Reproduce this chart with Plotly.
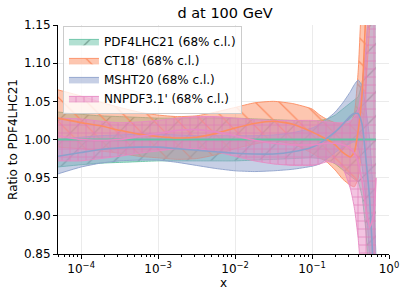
import plotly.graph_objects as go

# ---------------- data ----------------
x = [5.0e-5, 1.0e-4, 1.78e-4, 3.16e-4, 5.62e-4, 1.0e-3, 1.78e-3, 3.16e-3, 5.62e-3, 1.0e-2,
     1.78e-2, 3.16e-2, 5.62e-2, 0.100, 0.126, 0.158, 0.200, 0.251, 0.316, 0.355,
     0.398, 0.447, 0.501, 0.562, 0.631, 0.676]

pdf4lhc_c = [1.0] * 26
pdf4lhc_up = [1.036, 1.033, 1.031, 1.030, 1.029, 1.028, 1.028, 1.028, 1.028, 1.028,
              1.027, 1.026, 1.025, 1.024, 1.025, 1.027, 1.032, 1.040, 1.048, 1.052,
              1.056, 1.075, 1.120, 1.200, 1.300, 1.350]
pdf4lhc_lo = [0.964, 0.967, 0.969, 0.970, 0.971, 0.972, 0.972, 0.972, 0.972, 0.972,
              0.973, 0.974, 0.975, 0.976, 0.975, 0.973, 0.968, 0.960, 0.952, 0.948,
              0.944, 0.925, 0.880, 0.800, 0.700, 0.650]

ct18_c = [1.028, 1.022, 1.018, 1.012, 1.007, 1.004, 1.002, 1.003, 1.008, 1.015,
          1.021, 1.024, 1.020, 1.010, 1.005, 1.000, 0.993, 0.983, 0.977, 0.984,
          1.012, 1.060, 1.170, 1.300, 1.350, 1.400]
ct18_up = [1.065, 1.057, 1.049, 1.042, 1.036, 1.032, 1.030, 1.031, 1.036, 1.042,
           1.048, 1.050, 1.047, 1.040, 1.032, 1.026, 1.022, 1.020, 1.022, 1.035,
           1.090, 1.200, 1.300, 1.400, 1.450, 1.500]
ct18_lo = [0.990, 0.988, 0.985, 0.982, 0.978, 0.976, 0.974, 0.975, 0.980, 0.988,
           0.994, 0.998, 0.994, 0.982, 0.976, 0.970, 0.960, 0.948, 0.940, 0.938,
           0.950, 0.990, 1.070, 1.150, 1.250, 1.300]

msht_c = [0.978, 0.983, 0.987, 0.989, 0.990, 0.990, 0.988, 0.986, 0.984, 0.982,
          0.981, 0.981, 0.984, 0.990, 0.995, 1.002, 1.010, 1.020, 1.031, 1.034,
          1.034, 1.020, 0.975, 0.920, 0.820, 0.700]
msht_up = [1.000, 1.003, 1.005, 1.006, 1.007, 1.007, 1.006, 1.005, 1.005, 1.005,
           1.005, 1.006, 1.009, 1.015, 1.020, 1.027, 1.036, 1.048, 1.063, 1.072,
           1.078, 1.070, 1.040, 1.000, 0.920, 0.850]
msht_lo = [0.955, 0.964, 0.969, 0.972, 0.973, 0.973, 0.970, 0.966, 0.962, 0.959,
           0.958, 0.959, 0.961, 0.965, 0.968, 0.975, 0.983, 0.990, 0.995, 0.997,
           0.990, 0.965, 0.920, 0.840, 0.720, 0.600]

nnpdf_c = [1.005, 1.000, 0.999, 1.000, 1.004, 1.008, 1.012, 1.013, 1.010, 1.005,
           0.999, 0.995, 0.993, 0.993, 0.994, 0.995, 0.995, 0.993, 0.988, 0.982,
           0.970, 0.945, 0.910, 0.885, 0.900, 0.950]
nnpdf_up = [1.028, 1.027, 1.024, 1.022, 1.023, 1.025, 1.028, 1.030, 1.030, 1.028,
            1.026, 1.025, 1.025, 1.025, 1.024, 1.023, 1.022, 1.022, 1.025, 1.030,
            1.040, 1.070, 1.120, 1.200, 1.300, 1.350]
nnpdf_lo = [0.972, 0.972, 0.975, 0.978, 0.982, 0.985, 0.988, 0.988, 0.984, 0.978,
            0.972, 0.968, 0.966, 0.966, 0.968, 0.971, 0.969, 0.962, 0.935, 0.910,
            0.870, 0.800, 0.700, 0.600, 0.550, 0.500]

names = ["PDF4LHC21 (68% c.l.)", "CT18' (68% c.l.)", "MSHT20 (68% c.l.)", "NNPDF3.1' (68% c.l.)"]
x_tickvals = [1e-4, 1e-3, 1e-2, 1e-1, 1]
x_ticktext = ["10<sup>\u22124</sup>", "10<sup>\u22123</sup>", "10<sup>\u22122</sup>",
              "10<sup>\u22121</sup>", "10<sup>0</sup>"]
y_tickvals = [0.85, 0.90, 0.95, 1.00, 1.05, 1.10, 1.15]

# ---------------- styles ----------------
colors = ["#66c2a5", "#fc8d62", "#8da0cb", "#e78ac3"]
rgb = [(102, 194, 165), (252, 141, 98), (141, 160, 203), (231, 138, 195)]
hatch_fg = ["#6f9a8c", "#fc8d62", None, "#e07ab8"]
hatch_shape = ["/", "\\", "", "+"]
hatch_size = [17, 17, 8, 8]
hatch_solid = [0.07, 0.07, 0.1, 0.16]

bands = [(pdf4lhc_lo, pdf4lhc_up, pdf4lhc_c),
         (ct18_lo, ct18_up, ct18_c),
         (msht_lo, msht_up, msht_c),
         (nnpdf_lo, nnpdf_up, nnpdf_c)]

fig = go.Figure()
line_shape = dict(shape="spline", smoothing=0.5)

for i, (lo, up, c) in enumerate(bands):
    r, g, b = rgb[i]
    fill_rgba = f"rgba({r},{g},{b},0.5)"
    fig.add_trace(go.Scatter(x=x, y=lo, mode="lines",
                             line=dict(color=colors[i], width=0.9, **line_shape),
                             showlegend=False, hoverinfo="skip"))
    kw = {}
    if hatch_shape[i]:
        kw["fillpattern"] = dict(shape=hatch_shape[i], size=hatch_size[i], solidity=hatch_solid[i],
                                 fgcolor=hatch_fg[i], fgopacity=1.0, bgcolor=fill_rgba)
    fig.add_trace(go.Scatter(x=x, y=up, mode="lines", fill="tonexty",
                             fillcolor=fill_rgba,
                             line=dict(color=colors[i], width=0.9, **line_shape),
                             name=names[i], showlegend=True, hoverinfo="skip", **kw))

for i, (lo, up, c) in enumerate(bands):
    fig.add_trace(go.Scatter(x=x, y=c, mode="lines",
                             line=dict(color=colors[i], width=2.0 if i == 0 else 1.6, **line_shape),
                             showlegend=False, hoverinfo="skip"))

font = "DejaVu Sans"
fig.update_layout(
    width=407, height=299,
    margin=dict(l=58, r=18, t=25, b=45, autoexpand=False),
    paper_bgcolor="white", plot_bgcolor="white",
    hovermode=False,
    font=dict(family=font, size=12, color="black"),
    title=dict(text="d at 100 GeV", x=0.553, xanchor="center", xref="container",
               y=0.957, yanchor="middle",
               font=dict(family=font, size=14.5, color="black")),
    legend=dict(x=0.015, y=0.996, xanchor="left", yanchor="top", traceorder="normal",
                bgcolor="rgba(255,255,255,0.8)", bordercolor="#cccccc", borderwidth=1,
                font=dict(family=font, size=12), tracegroupgap=0, itemwidth=30),
    showlegend=True,
    annotations=[dict(text="x", xref="paper", yref="paper", x=0.5, y=-0.127,
                      xanchor="center", yanchor="middle", showarrow=False,
                      font=dict(family=font, size=12, color="black"))],
)
fig.update_xaxes(
    type="log", range=[-4.301, 0.0], automargin=False,
    tickmode="array", tickvals=x_tickvals, ticktext=x_ticktext,
    ticks="outside", ticklen=4, tickcolor="black",
    showline=True, linecolor="black", linewidth=1,
    showgrid=True, gridcolor="#ebebeb", gridwidth=1, zeroline=False,
    minor=dict(ticks="outside", ticklen=2, tickcolor="black", dtick="D1", showgrid=False),
    tickfont=dict(family=font, size=12),
)
fig.update_yaxes(
    range=[0.85, 1.15], tickmode="array", tickvals=y_tickvals, tickformat=".2f",
    automargin=False,
    ticks="outside", ticklen=4, tickcolor="black",
    showline=True, linecolor="black", linewidth=1,
    showgrid=True, gridcolor="#ebebeb", gridwidth=1, zeroline=False,
    title=dict(text="Ratio to PDF4LHC21", font=dict(family=font, size=12), standoff=3),
    tickfont=dict(family=font, size=12),
)

fig.write_html("out.html", config={"displayModeBar": False},
               post_script="document.body.style.margin='0px';document.body.style.overflow='hidden';")
